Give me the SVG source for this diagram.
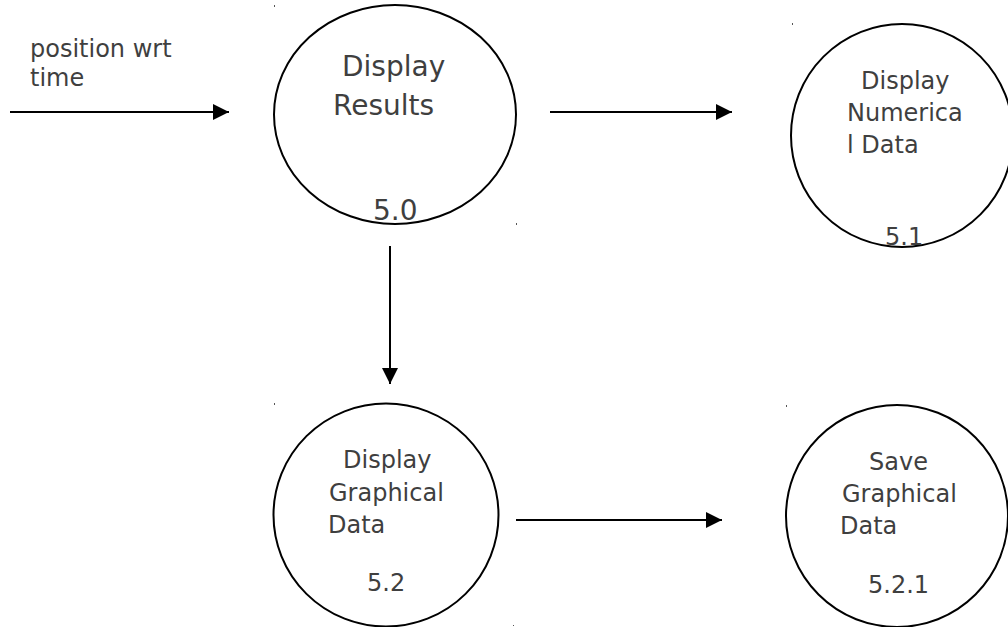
<svg xmlns="http://www.w3.org/2000/svg" width="1008" height="627" viewBox="0 0 1008 627">
  <style>
    .proc { fill: #ffffff; stroke: #000000; stroke-width: 2; }
    .lbl { font-family: "DejaVu Sans", sans-serif; fill: #3f3f3f; }
    .big { font-size: 28px; }
    .med { font-size: 24px; }
    .flow { stroke: #000000; stroke-width: 2; fill: none; marker-end: url(#head); }
    .tick { fill: #555555; }
  </style>
  <defs>
    <marker id="head" markerWidth="16" markerHeight="16" viewBox="0 0 16 16" refX="16" refY="8" orient="auto" markerUnits="userSpaceOnUse">
      <path d="M0,0 L16,8 L0,16 Z" fill="#000000"/>
    </marker>
  </defs>

  <rect width="1008" height="627" fill="#ffffff"/>

  <!-- small frame corner marks -->
  <g id="marks">
    <rect class="tick" x="274" y="5" width="1" height="2"/>
    <rect class="tick" x="516" y="223" width="1" height="2"/>
    <rect class="tick" x="792" y="23" width="1" height="2"/>
    <rect class="tick" x="274" y="403" width="1" height="2"/>
    <rect class="tick" x="786" y="405" width="1" height="2"/>
    <rect class="tick" x="513" y="625" width="1" height="1"/>
  </g>

  <g id="connectors">
    <line class="flow" x1="10" y1="112" x2="229" y2="112"/>
    <line class="flow" x1="550" y1="112" x2="732" y2="112"/>
    <line class="flow" x1="390" y1="246" x2="390" y2="384"/>
    <line class="flow" x1="516" y1="520" x2="722" y2="520"/>
  </g>

  <g id="input-label">
    <text class="lbl med" x="30" y="57">position wrt</text>
    <text class="lbl med" x="30" y="86">time</text>
  </g>

  <g id="node-5-0">
    <ellipse class="proc" cx="395" cy="114.5" rx="121" ry="109.5"/>
    <text class="lbl big" x="342" y="76">Display</text>
    <text class="lbl big" x="333" y="115">Results</text>
    <text class="lbl big" x="373" y="220">5.0</text>
  </g>

  <g id="node-5-1">
    <ellipse class="proc" cx="902" cy="135.5" rx="111" ry="111.5"/>
    <text class="lbl med" x="861" y="89">Display</text>
    <text class="lbl med" x="847" y="121">Numerica</text>
    <text class="lbl med" x="847" y="153">l Data</text>
    <text class="lbl med" x="885" y="245">5.1</text>
  </g>

  <g id="node-5-2">
    <ellipse class="proc" cx="386" cy="515" rx="112.5" ry="111.5"/>
    <text class="lbl med" x="343" y="468">Display</text>
    <text class="lbl med" x="329" y="501">Graphical</text>
    <text class="lbl med" x="328" y="533">Data</text>
    <text class="lbl med" x="367" y="591">5.2</text>
  </g>

  <g id="node-5-2-1">
    <ellipse class="proc" cx="897" cy="516" rx="111" ry="111"/>
    <text class="lbl med" x="869" y="470">Save</text>
    <text class="lbl med" x="842" y="502">Graphical</text>
    <text class="lbl med" x="840" y="534">Data</text>
    <text class="lbl med" x="868" y="593">5.2.1</text>
  </g>
</svg>
